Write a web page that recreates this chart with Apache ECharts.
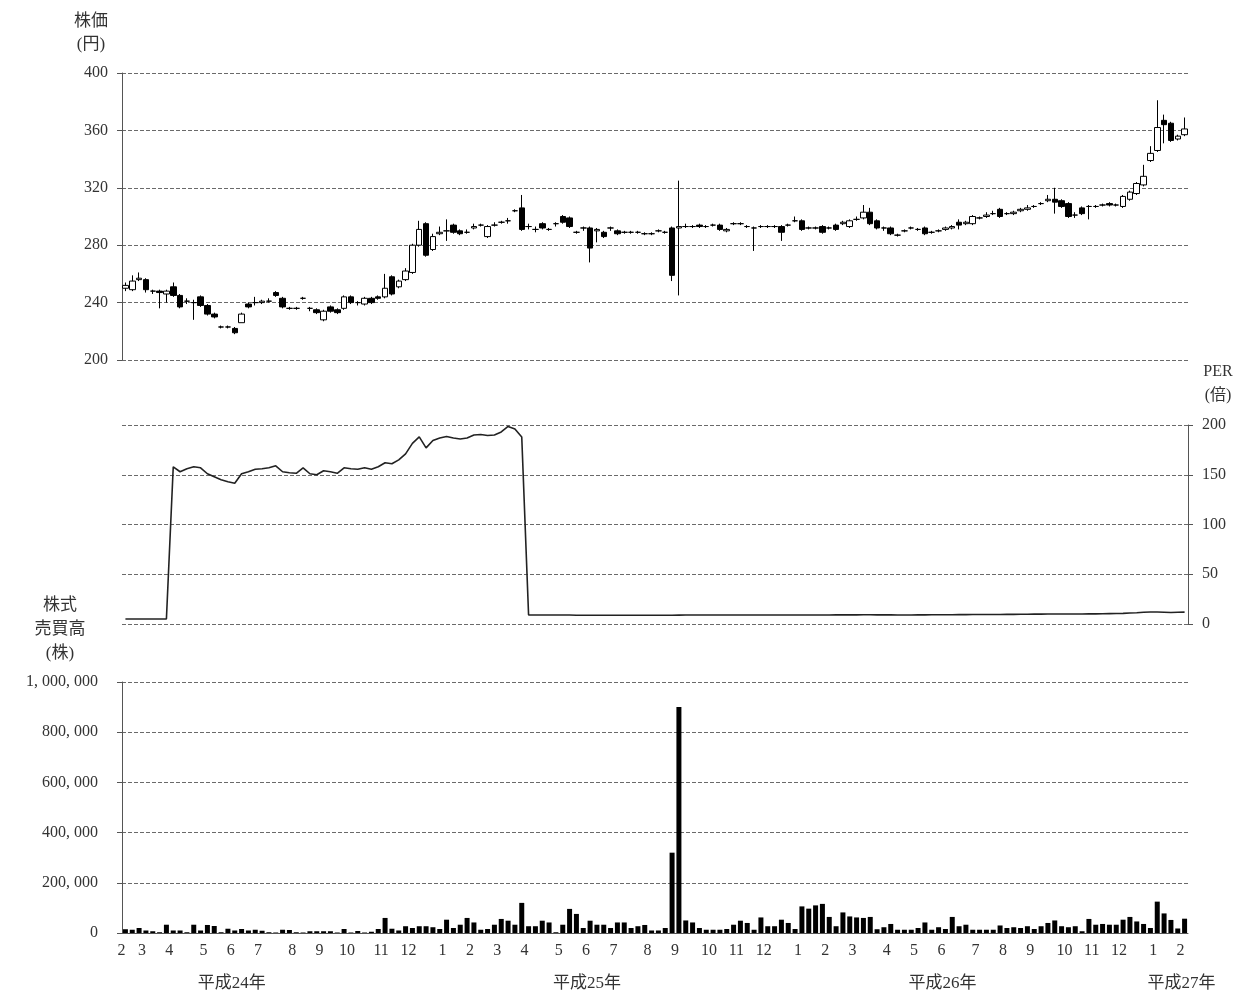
<!DOCTYPE html>
<html><head><meta charset="utf-8">
<script src="https://cdn.jsdelivr.net/npm/echarts@6/dist/echarts.min.js"></script>
<style>html,body{margin:0;padding:0;background:#fff}#c{width:1240px;height:992px}</style>
</head><body><div id="c"></div>
<script>
// ---- data ----
const firstWeek = '2012-02-13';
const weekCount = 156;
// [open, close, low, high]
const ohlc = [
[250,252,248,254],[249,255,248,259],[256,257,255,261],[256,249,247,257],[248,248,246,249],
[248,247,236,249],[246,248,240,249],[251,245,244,254],[245,237,236,246],[241,241,239,243],
[240,240,228,242],[244,238,237,245],[238,232,231,239],[232,230,229,233],[223,223,222,224],
[223,223,222,224],[222,219,218,223],[226,232,226,233],[239,237,236,240],[240,240,238,244],
[240,241,239,242],[241,241,240,243],[247,245,244,248],[243,237,236,244],[236,236,235,237],
[236,236,235,237],[243,243,242,244],[236,236,234,237],[235,233,232,236],[228,234,227,235],
[237,234,233,238],[235,233,232,236],[236,244,235,245],[244,240,239,245],[240,240,238,241],
[239,243,238,244],[243,240,239,244],[244,243,242,245],[244,250,243,260],[258,246,245,259],
[251,255,250,256],[256,262,255,264],[261,280,260,281],[280,291,279,297],[295,273,272,296],
[277,286,276,288],[288,289,287,293],[290,290,283,298],[294,289,288,295],[290,288,287,291],
[289,289,288,291],[292,293,291,295],[294,294,293,295],[286,293,285,294],[294,294,293,296],
[296,296,295,297],[297,297,295,299],[304,304,303,305],[306,291,290,315],[293,293,291,295],
[291,291,289,293],[295,292,291,296],[291,291,290,292],[295,295,293,296],[300,296,295,301],
[299,293,292,300],[289,289,288,290],[292,292,290,293],[292,278,268,293],[290,291,282,292],
[289,286,285,290],[292,292,290,293],[290,288,287,291],[289,289,288,290],[289,289,288,290],
[289,289,288,290],[288,288,287,289],[288,288,287,289],[290,290,289,291],[289,289,288,290],
[292,259,255,293],[292,293,245,325],[293,293,292,295],[293,293,292,294],[294,293,292,295],
[293,293,292,294],[294,294,293,295],[294,291,290,295],[290,291,289,292],[295,295,294,296],
[295,295,294,296],[293,293,292,294],[292,292,276,293],[293,293,292,294],[293,293,292,294],
[293,293,292,294],[293,289,283,294],[294,294,293,295],[297,297,296,300],[297,291,290,298],
[292,292,291,293],[292,292,291,293],[293,289,288,294],[292,292,291,293],[294,291,290,295],
[295,296,294,297],[293,297,292,298],[298,298,297,300],[299,303,298,308],[303,295,294,306],
[297,292,291,298],[292,292,290,293],[292,288,287,293],[287,287,286,288],[290,290,289,291],
[292,292,291,293],[291,291,290,292],[292,288,287,293],[289,289,288,290],[290,290,289,291],
[291,292,290,293],[292,293,291,294],[296,294,291,298],[295,296,294,297],[295,300,294,301],
[299,299,298,300],[300,301,299,303],[302,302,301,304],[305,300,299,306],[302,302,301,303],
[302,303,301,304],[304,305,303,306],[305,306,304,308],[307,307,306,308],[309,309,308,310],
[311,312,310,315],[312,310,302,320],[311,307,306,312],[309,300,299,310],[301,301,299,303],
[306,302,301,307],[307,307,298,308],[307,307,306,308],[308,308,307,309],[309,308,307,310],
[308,308,307,309],[307,314,306,315],[312,317,311,318],[316,323,315,324],[322,328,321,336],
[339,344,338,349],[346,362,345,381],[367,364,351,371],[365,353,352,366],[354,356,353,357],
[357,361,356,369]
];
const per = [
5,5,5,5,5,5,5,158,153,156,158,157,151,148,145,143,141.5,151,153,155.5,
156,157,159,153,152,151.5,157,151,150,154,153,151.5,157,156,155.5,157,155.5,158,162,161,
165,171,181.5,188,177,184.5,187,188.5,187,186,187,190,190.5,189.5,190,193,198.5,196,188,9,
9,9,9,9,9,9,8.8,8.8,8.8,8.8,8.8,8.8,8.8,8.8,8.8,8.8,8.8,8.8,8.8,8.8,
8.8,8.9,9,9,9,9,9,9,9,9,9,9,9,9,9,9,9,9,9,9,
9.1,9.1,9.1,9.1,9.2,9.2,9.2,9.2,9.3,9.3,9.2,9.2,9.2,9.1,9.1,9.1,9.2,9.2,9.3,9.3,
9.3,9.3,9.4,9.4,9.5,9.5,9.5,9.6,9.6,9.7,9.7,9.8,9.8,9.9,9.9,10,10,10,10.1,10.1,
10.1,10.2,10.2,10.3,10.4,10.5,10.7,11,11.3,11.8,12,12,11.8,11.6,11.8,11.9
];
const volume = [
15000,13000,20000,10000,7000,3000,33000,10000,10000,3000,
33000,10000,32000,28000,3000,17000,10000,16000,10000,13000,
9000,3000,2000,13000,12000,3000,2000,7000,7000,7000,
7000,2000,16000,2000,8000,2000,5000,16000,60000,17000,
10000,27000,20000,27000,27000,23000,16000,53000,20000,33000,
60000,42000,13000,16000,33000,56000,49000,33000,120000,27000,
27000,49000,42000,3000,33000,96000,76000,20000,49000,33000,
33000,20000,42000,42000,20000,27000,32000,10000,10000,20000,
320000,900000,50000,42000,20000,13000,13000,13000,16000,33000,
49000,40000,13000,62000,27000,27000,53000,40000,16000,106000,
97000,110000,116000,64000,27000,82000,66000,62000,60000,64000,
15000,23000,36000,13000,13000,13000,20000,42000,13000,23000,
16000,64000,27000,33000,13000,13000,13000,13000,30000,20000,
23000,20000,27000,16000,27000,40000,50000,27000,23000,27000,
7000,56000,33000,36000,33000,33000,53000,64000,46000,36000,
20000,125000,78000,52000,18000,57000
];
const yearLabels = {16:'平成24年', 68:'平成25年', 120:'平成26年', 155:'平成27年'};
const priceTitle = ['株価', '(円)'];
const perTitle = ['PER', '(倍)'];
const volTitle = ['株式', '売買高', '(株)'];

// ---- categories ----
const weeks = [];
{
  let t = Date.parse(firstWeek + 'T00:00:00Z');
  for (let i = 0; i < weekCount; i++) { weeks.push(new Date(t).toISOString().slice(0, 10)); t += 7 * 86400000; }
}
const isMonthStart = i => i === 0 || weeks[i].slice(5, 7) !== weeks[i - 1].slice(5, 7);

const FONT = "'Liberation Serif', 'Noto Sans CJK JP', serif";
const TXT = '#333';
const AX = '#555';
const split = { show: true, lineStyle: { color: '#6a6a6a', type: [4, 2], width: 1 } };
const fmtVol = v => String(v).replace(/\B(?=(\d{3})+(?!\d))/g, ', ');

const baseX = {
  type: 'category', data: weeks, boundaryGap: true,
  axisTick: { show: false }, axisLabel: { show: false },
  axisLine: { show: false }, splitLine: { show: false }
};

const chart = echarts.init(document.getElementById('c'));
const titles = [];
priceTitle.forEach((t, k) => titles.push({ type: 'text', style: { text: t, x: 91, y: 22 + k * 23, textAlign: 'center', textVerticalAlign: 'middle', font: '17px ' + FONT, fill: TXT } }));
perTitle.forEach((t, k) => titles.push({ type: 'text', style: { text: t, x: 1218, y: 372 + k * 24, textAlign: 'center', textVerticalAlign: 'middle', font: '16px ' + FONT, fill: TXT } }));
volTitle.forEach((t, k) => titles.push({ type: 'text', style: { text: t, x: 60, y: 606 + k * 24, textAlign: 'center', textVerticalAlign: 'middle', font: '17px ' + FONT, fill: TXT } }));

chart.setOption({
  animation: false,
  backgroundColor: '#fff',
  grid: [
    { left: 122, right: 52, top: 73, height: 287 },
    { left: 122, right: 52, top: 425, height: 199 },
    { left: 122, right: 52, top: 682, height: 251 }
  ],
  xAxis: [
    Object.assign({}, baseX, { gridIndex: 0 }),
    Object.assign({}, baseX, { gridIndex: 1 }),
    Object.assign({}, baseX, {
      gridIndex: 2,
      axisLine: { show: true, lineStyle: { color: AX, width: 1 } },
      axisLabel: { show: true, interval: i => isMonthStart(i), formatter: v => String(+v.slice(5, 7)),
        fontFamily: FONT, fontSize: 16, color: TXT, margin: 10, padding: [0, 8, 0, 0] }
    }),
    Object.assign({}, baseX, {
      gridIndex: 2, position: 'bottom', offset: 33,
      axisLabel: { show: true, interval: i => yearLabels[i] !== undefined, formatter: (v, i) => yearLabels[i],
        fontFamily: FONT, fontSize: 17, color: TXT, margin: 9, padding: [0, 6, 0, 0] }
    })
  ],
  yAxis: [
    { type: 'value', gridIndex: 0, min: 200, max: 400, interval: 40,
      axisLine: { show: true, lineStyle: { color: AX } },
      axisTick: { show: true, length: 5, lineStyle: { color: AX } },
      axisLabel: { fontFamily: FONT, fontSize: 16, color: TXT, margin: 14 },
      splitLine: split },
    { type: 'value', gridIndex: 1, position: 'right', min: 0, max: 200, interval: 50,
      axisLine: { show: true, lineStyle: { color: AX } },
      axisTick: { show: true, length: 5, lineStyle: { color: AX } },
      axisLabel: { fontFamily: FONT, fontSize: 16, color: TXT, margin: 14 },
      splitLine: split },
    { type: 'value', gridIndex: 2, min: 0, max: 1000000, interval: 200000,
      axisLine: { show: true, lineStyle: { color: AX } },
      axisTick: { show: true, length: 5, lineStyle: { color: AX } },
      axisLabel: { fontFamily: FONT, fontSize: 16, color: TXT, margin: 24, formatter: fmtVol },
      splitLine: split }
  ],
  series: [
    { type: 'candlestick', xAxisIndex: 0, yAxisIndex: 0, data: ohlc, barWidth: 6,
      itemStyle: { color: '#fff', color0: '#000', borderColor: '#000', borderColor0: '#000', borderWidth: 1 } },
    { type: 'line', xAxisIndex: 1, yAxisIndex: 1, data: per, showSymbol: false,
      lineStyle: { color: '#222', width: 1.6 } },
    { type: 'bar', xAxisIndex: 2, yAxisIndex: 2, data: volume, barWidth: 5,
      itemStyle: { color: '#000' } }
  ],
  graphic: titles
});
</script>
</body></html>
